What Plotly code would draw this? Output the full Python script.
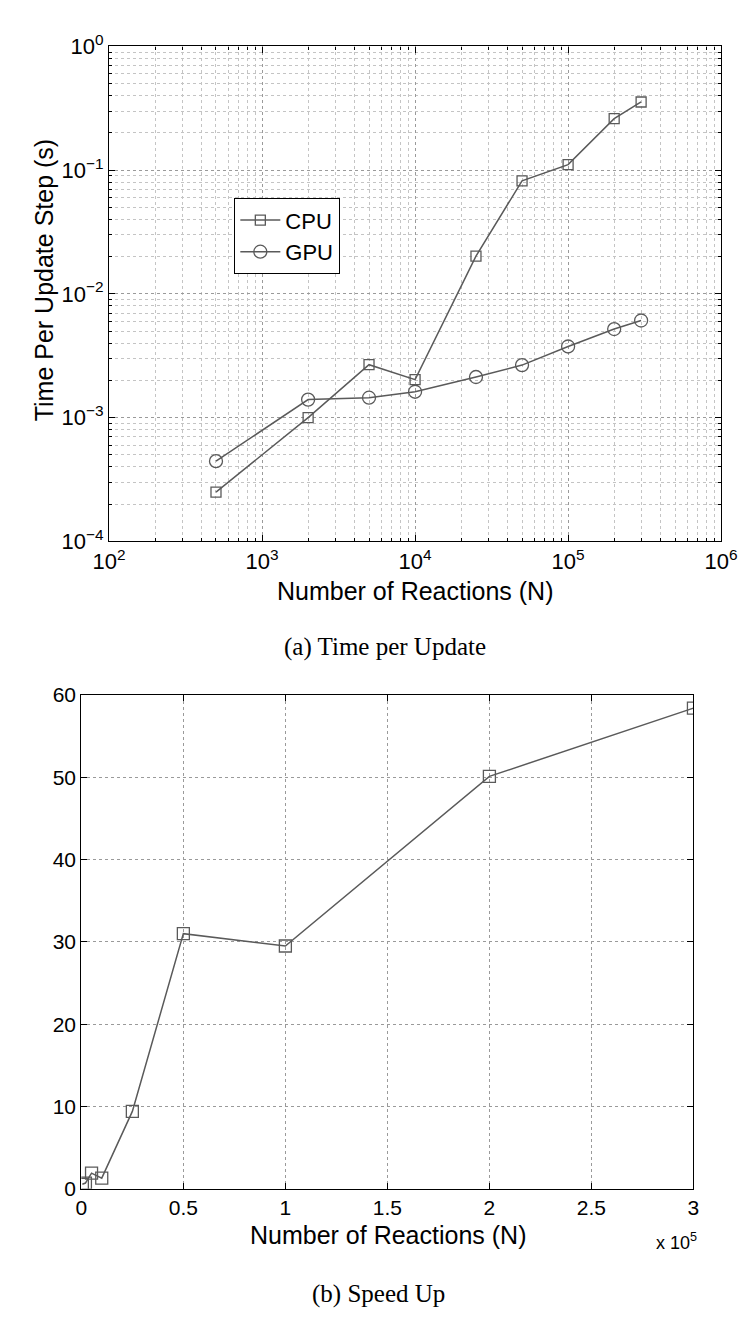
import plotly.graph_objects as go

# ---------------- data ----------------
n_reactions = [500, 2000, 5000, 10000, 25000, 50000, 100000, 200000, 300000]
cpu_time = [2.5e-4, 1.0e-3, 2.68e-3, 2.03e-3, 2.02e-2, 8.2e-2, 1.11e-1, 2.61e-1, 3.56e-1]
gpu_time = [4.45e-4, 1.4e-3, 1.45e-3, 1.62e-3, 2.13e-3, 2.66e-3, 3.76e-3, 5.2e-3, 6.1e-3]
speedup = [0.55, 0.7, 1.9, 1.3, 9.4, 31.0, 29.5, 50.1, 58.4]

top_x_tickvals = [1e2, 1e3, 1e4, 1e5, 1e6]
top_x_ticktext = ["10<sup>2</sup>", "10<sup>3</sup>", "10<sup>4</sup>", "10<sup>5</sup>", "10<sup>6</sup>"]
top_y_tickvals = [1e-4, 1e-3, 1e-2, 1e-1, 1e0]
top_y_ticktext = ["10<sup>−4</sup>", "10<sup>−3</sup>", "10<sup>−2</sup>", "10<sup>−1</sup>", "10<sup>0</sup>"]
bot_x_tickvals = [0, 50000, 100000, 150000, 200000, 250000, 300000]
bot_x_ticktext = ["0", "0.5", "1", "1.5", "2", "2.5", "3"]
bot_y_tickvals = [0, 10, 20, 30, 40, 50, 60]

# ---------------- layout helpers ----------------
W, H = 754, 1319
def px_x(p):
    return p / W
def px_y(p):
    return 1 - p / H

LINE = "#5a5a5a"
SANS = "Liberation Sans, Arial, sans-serif"
SERIF = "Liberation Serif, Times New Roman, serif"

fig = go.Figure()

fig.add_trace(go.Scatter(
    x=n_reactions, y=cpu_time, name="CPU", mode="lines+markers",
    line=dict(color=LINE, width=1.5),
    marker=dict(symbol="square-open", size=10, color=LINE, line=dict(width=1.3)),
    xaxis="x", yaxis="y"))
fig.add_trace(go.Scatter(
    x=n_reactions, y=gpu_time, name="GPU", mode="lines+markers",
    line=dict(color=LINE, width=1.5),
    marker=dict(symbol="circle-open", size=13, color=LINE, line=dict(width=1.3)),
    xaxis="x", yaxis="y"))
fig.add_trace(go.Scatter(
    x=n_reactions, y=speedup, name="Speed Up", mode="lines+markers",
    line=dict(color=LINE, width=1.5),
    marker=dict(symbol="square-open", size=12, color=LINE, line=dict(width=1.3)),
    xaxis="x2", yaxis="y2", showlegend=False))

common = dict(
    showline=True, linecolor="black", linewidth=1.3, mirror="allticks",
    ticks="inside", ticklen=6, tickcolor="black",
    showgrid=True, gridcolor="#9a9a9a", griddash="dot", gridwidth=1,
    zeroline=False,
)
log_minor = dict(dtick="D1", ticks="inside", ticklen=3, tickcolor="black",
                 showgrid=True, gridcolor="#c4c4c4", griddash="dot", gridwidth=1)

fig.update_layout(
    width=W, height=H,
    margin=dict(l=0, r=0, t=0, b=0),
    paper_bgcolor="white", plot_bgcolor="white",
    font=dict(family=SANS, color="black", size=20),
    xaxis=dict(
        type="log", range=[2, 6], domain=[px_x(88), px_x(729)], anchor="y",
        tickvals=top_x_tickvals, ticktext=top_x_ticktext,
        tickfont=dict(size=22), minor=log_minor,
        **common),
    yaxis=dict(
        type="log", range=[-4, 0], domain=[px_y(529), px_y(23)], anchor="x",
        tickvals=top_y_tickvals, ticktext=top_y_ticktext,
        tickfont=dict(size=22), minor=log_minor,
        **common),
    xaxis2=dict(
        range=[0, 300000], domain=[px_x(59), px_x(700)], anchor="y2",
        tickvals=bot_x_tickvals, ticktext=bot_x_ticktext,
        tickfont=dict(size=21),
        **common),
    yaxis2=dict(
        range=[0, 60], domain=[px_y(1191), px_y(686)], anchor="x2",
        tickvals=bot_y_tickvals,
        tickfont=dict(size=21),
        **common),
    legend=dict(
        x=px_x(219), y=px_y(178), xanchor="left", yanchor="top",
        bgcolor="white", bordercolor="black", borderwidth=1.2,
        font=dict(size=22, family=SANS), itemwidth=40,
        tracegroupgap=0),
)

annotations = [
    dict(text="Time Per Update Step (s)", x=px_x(20), y=px_y(262), textangle=-90,
         font=dict(size=25, family=SANS)),
    dict(text="Number of Reactions (N)", x=px_x(408), y=px_y(580),
         font=dict(size=25, family=SANS)),
    dict(text="(a) Time per Update", x=px_x(377), y=px_y(637),
         font=dict(size=25, family=SERIF)),
    dict(text="Number of Reactions (N)", x=px_x(380), y=px_y(1238),
         font=dict(size=25, family=SANS)),
    dict(text="x 10<sup>5</sup>", x=px_x(682), y=px_y(1245),
         font=dict(size=18, family=SANS)),
    dict(text="(b) Speed Up", x=px_x(370), y=px_y(1299),
         font=dict(size=25, family=SERIF)),
]
for a in annotations:
    a.update(xref="paper", yref="paper", showarrow=False, xanchor="center", yanchor="middle")
fig.update_layout(annotations=annotations)

fig.write_html("out.html")
